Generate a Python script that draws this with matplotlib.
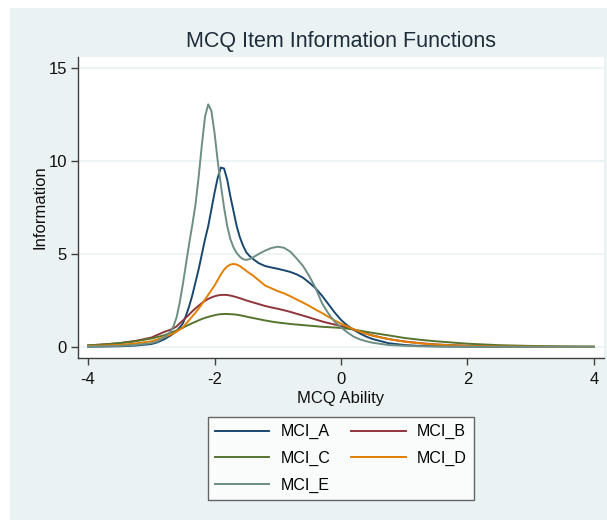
import matplotlib
matplotlib.use("Agg")
import matplotlib.pyplot as plt
from matplotlib.patches import Rectangle

# ---- data ----
theta = [-4, -3.75, -3.5, -3.25, -3, -2.9, -2.8, -2.7,
         -2.65, -2.6, -2.55, -2.5, -2.45, -2.4, -2.35, -2.3, -2.25, -2.2, -2.15,
         -2.1, -2.05, -2.0, -1.95, -1.9, -1.85, -1.8, -1.75, -1.7, -1.65, -1.6,
         -1.55, -1.5, -1.45, -1.4,
         -1.3, -1.2, -1.1, -1.0, -0.9, -0.8, -0.7, -0.6, -0.5, -0.4, -0.3, -0.2,
         -0.1, 0.0, 0.1, 0.2, 0.3, 0.4, 0.5,
         0.75, 1.0, 1.25, 1.5, 2.0, 2.5, 3.0, 3.5, 4.0]

mci_a = [0.01, 0.02, 0.03, 0.07, 0.15, 0.25, 0.4, 0.6,
         0.72, 0.85, 1.05, 1.27, 1.7, 2.2, 2.8, 3.5, 4.2, 5.0, 5.8,
         6.5, 7.4, 8.3, 9.1, 9.65, 9.6, 9.0, 8.1, 7.3, 6.5, 5.9,
         5.45, 5.1, 4.9, 4.75,
         4.5, 4.35, 4.27, 4.2, 4.12, 4.03, 3.9, 3.72, 3.45, 3.15, 2.75, 2.3,
         1.85, 1.45, 1.15, 0.92, 0.72, 0.55, 0.42,
         0.2, 0.1, 0.05, 0.03, 0.01, 0.0, 0.0, 0.0, 0.0]
mci_b = [0.08, 0.13, 0.2, 0.32, 0.5, 0.65, 0.8, 0.92,
         1.0, 1.1, 1.27, 1.42, 1.58, 1.75, 1.92, 2.08, 2.22, 2.36, 2.48,
         2.58, 2.66, 2.72, 2.77, 2.79, 2.8, 2.79, 2.76, 2.72, 2.67, 2.62,
         2.56, 2.5, 2.45, 2.4,
         2.3, 2.2, 2.12, 2.05, 1.97, 1.88, 1.78, 1.68, 1.58, 1.47, 1.37, 1.28,
         1.2, 1.12, 1.03, 0.93, 0.82, 0.71, 0.61,
         0.42, 0.29, 0.2, 0.13, 0.06, 0.03, 0.01, 0.005, 0.0]
mci_c = [0.08, 0.13, 0.2, 0.3, 0.45, 0.53, 0.62, 0.75,
         0.82, 0.88, 0.95, 1.03, 1.12, 1.2, 1.28, 1.35, 1.43, 1.5, 1.56,
         1.61, 1.66, 1.7, 1.74, 1.76, 1.77, 1.77, 1.76, 1.75, 1.73, 1.7,
         1.67, 1.63, 1.59, 1.56,
         1.49, 1.42, 1.36, 1.31, 1.27, 1.23, 1.2, 1.17, 1.14, 1.11, 1.08, 1.06,
         1.04, 1.02, 0.98, 0.93, 0.87, 0.81, 0.75,
         0.62, 0.48, 0.38, 0.3, 0.17, 0.09, 0.05, 0.02, 0.01]
mci_d = [0.05, 0.07, 0.1, 0.18, 0.3, 0.4, 0.52, 0.65,
         0.73, 0.82, 0.93, 1.05, 1.25, 1.45, 1.65, 1.85, 2.07, 2.3, 2.55,
         2.8, 3.05, 3.3, 3.6, 3.9, 4.15, 4.33, 4.43, 4.46, 4.43, 4.35,
         4.22, 4.1, 3.97, 3.86,
         3.58, 3.3, 3.15, 3.0, 2.88, 2.72, 2.55, 2.38, 2.2, 2.0, 1.82, 1.62,
         1.42, 1.25, 1.1, 0.95, 0.82, 0.7, 0.6,
         0.42, 0.28, 0.19, 0.12, 0.05, 0.02, 0.01, 0.0, 0.0]
mci_e = [0.02, 0.03, 0.05, 0.1, 0.2, 0.3, 0.5, 0.8,
         1.1, 1.6, 2.4, 3.4, 4.5, 5.6, 6.6, 7.7, 9.2, 10.9, 12.4,
         13.05, 12.7, 11.5, 10.0, 8.7, 7.5, 6.5, 5.8, 5.35, 5.05, 4.85,
         4.72, 4.68, 4.72, 4.8,
         5.0, 5.18, 5.32, 5.39, 5.33, 5.12, 4.75, 4.35, 3.8, 3.15, 2.35, 1.8,
         1.35, 1.05, 0.78, 0.55, 0.4, 0.3, 0.22,
         0.1, 0.06, 0.03, 0.02, 0.01, 0.0, 0.0, 0.0, 0.0]

series = [("MCI_A", mci_a), ("MCI_B", mci_b), ("MCI_C", mci_c),
          ("MCI_D", mci_d), ("MCI_E", mci_e)]
colors = ["#1a476f", "#90353b", "#55752f", "#e37e00", "#6e8e84"]

xticks = [-4, -2, 0, 2, 4]
yticks = [0, 5, 10, 15]

title = "MCQ Item Information Functions"
xlabel = "MCQ Ability"
ylabel = "Information"

# ---- figure ----
plt.rcParams['font.family'] = ['Liberation Sans', 'DejaVu Sans']
plt.rcParams['axes.unicode_minus'] = False

W, H = 607, 520
fig = plt.figure(figsize=(W / 100, H / 100), dpi=100)
fig.patch.set_facecolor("white")
bg = "#eaf2f3"
fig.patches.append(Rectangle((10 / W, 0), 1 - 10 / W, 1 - 8 / H,
                             transform=fig.transFigure, facecolor=bg,
                             edgecolor="none", zorder=-10))

left, right, top, bottom = 78, 604, 57, 358
ax = fig.add_axes([left / W, 1 - bottom / H, (right - left) / W, (bottom - top) / H])
ax.set_facecolor("white")

for (name, vals), c in zip(series, colors):
    ax.plot(theta, vals, color=c, lw=1.4, label=name,
            solid_joinstyle="round", antialiased=True)

ax.set_xlim(-4.16, 4.16)
ax.set_ylim(-0.6, 15.6)
ax.set_xticks(xticks)
ax.set_yticks(yticks)
ax.yaxis.grid(True, color=bg, lw=1.2)
ax.set_axisbelow(True)

for s in ["top", "right"]:
    ax.spines[s].set_visible(False)
for s in ["left", "bottom"]:
    ax.spines[s].set_color("#404040")
    ax.spines[s].set_linewidth(1.0)
ax.tick_params(direction="out", length=5, width=1, color="#404040",
               labelsize=12, labelcolor="#111111")
ax.tick_params(axis="x", pad=5)
ax.tick_params(axis="y", pad=3)

ax.set_title(title, fontsize=15.5, color="#1e2d3a", pad=7)
ax.set_xlabel(xlabel, fontsize=12, color="#111111", labelpad=3)
ax.set_ylabel(ylabel, fontsize=12, color="#111111", labelpad=1)

# legend order in reference: A B / C D / E (row-wise)
handles, labels = ax.get_legend_handles_labels()
order = [0, 2, 4, 1, 3]
leg = fig.legend([handles[i] for i in order], [labels[i] for i in order],
                 ncol=2, loc="upper left",
                 bbox_to_anchor=(208 / W, 1 - 417 / H),
                 frameon=True, fancybox=False, fontsize=11.5,
                 handlelength=3.4, handletextpad=0.7, columnspacing=1.3,
                 labelspacing=0.72, borderpad=0.45, borderaxespad=0)
leg.get_frame().set_edgecolor("#404040")
leg.get_frame().set_linewidth(1.0)
leg.get_frame().set_facecolor("white")

fig.savefig("out.png", dpi=100, facecolor=fig.get_facecolor())
